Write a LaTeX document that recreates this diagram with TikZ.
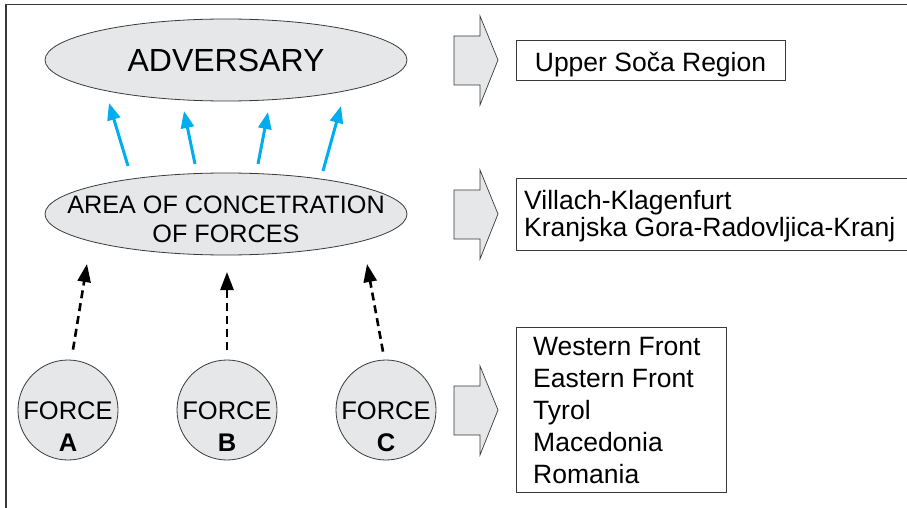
\documentclass[tikz,border=0pt]{standalone}
\usepackage{fontspec}
\setmainfont{Liberation Sans}
\usetikzlibrary{shapes.geometric,arrows.meta}
\definecolor{shade}{HTML}{E6E7E8}
\definecolor{outline}{HTML}{3A3A3A}
\definecolor{skyblue}{HTML}{00AEEF}
\tikzset{
  oval/.style={ellipse, draw=outline, line width=0.8pt, fill=shade,
    minimum width=362pt, minimum height=82pt, inner sep=0pt},
  forcenode/.style={circle, draw=outline, line width=0.8pt, fill=shade,
    minimum size=100pt, inner sep=0pt},
  label text/.style={inner sep=0pt, align=center},
  bluearrow/.style={draw=skyblue, line width=3pt,
    -{Triangle[length=17pt,width=13pt]}},
  dasharrow/.style={draw=black, line width=2.6pt, dash pattern=on 8pt off 5pt,
    -{Triangle[length=18pt,width=13pt]}},
  blockarrow/.style={draw=outline, line width=0.7pt, fill=shade},
  listbox/.style={draw=outline, line width=0.8pt, fill=white, anchor=north west,
    inner sep=0pt},
  listtext/.style={anchor=north west, inner sep=0pt, align=left},
  frameline/.style={draw=outline, line width=1.5pt}
}
\begin{document}
\begin{tikzpicture}[x=1pt, y=-1pt]
  \useasboundingbox (0,0) rectangle (907,508);
  \clip (0,0) rectangle (907,508);

  % open frame round the whole figure
  \draw[frameline] (6,510) -- (6,4.5) -- (910,4.5);

  % the two ovals and their captions
  \node[oval] (adv) at (226,60) {};
  \node[label text, anchor=base, font=\fontsize{32}{36}\selectfont]
    (advtext) at (226,71.5) {ADVERSARY};
  \node[oval] (area) at (226,214) {};
  \node[label text, anchor=north, font=\fontsize{25.2}{29}\selectfont]
    (areatext) at (226,196) {AREA OF CONCETRATION\\OF FORCES};

  % the three forces
  \foreach \n/\x/\l in {fa/68/A, fb/227/B, fc/386/C} {
    \node[forcenode] (\n) at (\x,410) {};
    \node[label text, anchor=north, font=\fontsize{25.5}{32.5}\selectfont]
      (\n text) at (\x,401) {FORCE\\\textbf{\l}};
  }

  % ends of the blue arrows between the ovals
  \coordinate (u1) at (128,166); \coordinate (v1) at (109,103);
  \coordinate (u2) at (195,164); \coordinate (v2) at (184,111);
  \coordinate (u3) at (258,164); \coordinate (v3) at (268,112);
  \coordinate (u4) at (323,171); \coordinate (v4) at (341,106);
  \foreach \i in {1,...,4} \draw[bluearrow] (u\i) -- (v\i);

  % dashed arrows from the forces up to the area
  \coordinate (wa) at (87,264);
  \coordinate (wb) at (227,272);
  \coordinate (wc) at (367,264);
  \draw[dasharrow] ([shift={(5,-10)}]fa.north) -- (wa);
  \draw[dasharrow] ([shift={(0,-10)}]fb.north) -- (wb);
  \draw[dasharrow] ([shift={(-3,-8)}]fc.north) -- (wc);

  % block arrows pointing at the lists
  \foreach \c in {60,214,410}
    \draw[blockarrow] (454,\c-24) -- (480,\c-24) -- (480,\c-44) -- (498,\c)
      -- (480,\c+45) -- (480,\c+25) -- (454,\c+25) -- cycle;

  % the lists on the right
  \node[listbox, minimum width=269pt, minimum height=40pt] (l1) at (516,40) {};
  \node[label text, anchor=base, font=\fontsize{26.5}{32}\selectfont]
    (l1text) at (650.5,71.5) {Upper Soča Region};

  \node[listbox, minimum width=400pt, minimum height=72pt] (l2) at (516,178) {};
  \node[listtext, font=\fontsize{26.5}{27}\selectfont] (l2text) at (524,190)
    {Villach-Klagenfurt\\Kranjska Gora-Radovljica-Kranj};

  \node[listbox, minimum width=210pt, minimum height=165pt] (l3) at (516,327) {};
  \node[listtext, font=\fontsize{26.5}{32}\selectfont] (l3text) at (533,337)
    {Western Front\\Eastern Front\\Tyrol\\Macedonia\\Romania};
\end{tikzpicture}
\end{document}
